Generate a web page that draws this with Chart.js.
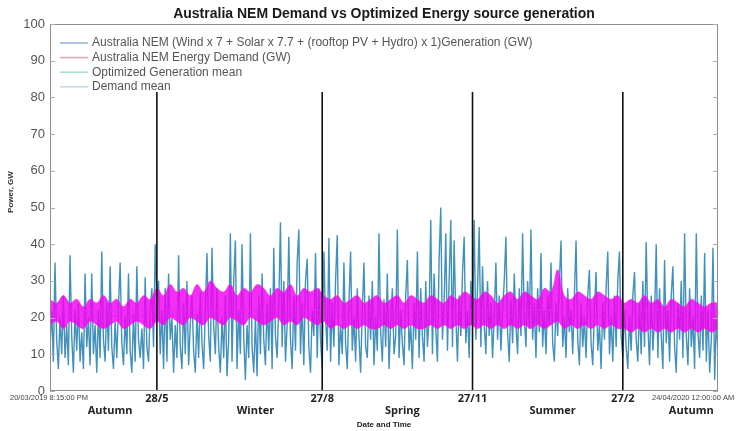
<!DOCTYPE html>
<html lang="en">
<head>
<meta charset="UTF-8">
<title>Australia NEM Demand vs Optimized Energy source generation</title>
<style>
    body { margin: 0; background: #fff; }
    #wrap { width: 750px; height: 431px; }
</style>
</head>
<body>
<div id="wrap"><canvas id="chart" width="750" height="431"></canvas></div>
<script src="https://cdn.jsdelivr.net/npm/chart.js"></script>
<script>
// Chart values.
// x is days since 20/03/2019 8:15 PM (range ends 24/04/2020).
const dayMax = 400;

// Optimized generation (GW), one value per day
const genValues = [
    12, 22, 8, 35, 14, 6, 20, 10, 26, 9,
    18, 7, 37, 15, 5, 22, 11, 24, 8, 16,
    6, 32, 12, 20, 7, 32, 10, 18, 5, 22,
    9, 38, 14, 8, 24, 11, 34, 12, 6, 19,
    9, 23, 35, 13, 7, 20, 10, 32, 11, 5,
    21, 8, 34, 14, 9, 17, 6, 31, 12, 8,
    22, 28, 12, 40, 24, 30, 10, 22, 6, 28,
    8, 32, 14, 20, 5, 18, 9, 37, 12, 6,
    24, 10, 30, 7, 18, 26, 11, 5, 21, 9,
    27, 13, 6, 22, 37.6, 15, 8, 39, 18, 10,
    28, 12, 5, 20, 9, 26, 4, 14, 43, 8,
    30, 41, 6, 22, 10, 40, 15, 3, 18, 9,
    43, 12, 5, 20, 4, 26, 10, 32, 14, 7,
    24, 11, 28, 6, 39, 15, 9, 24, 46, 12,
    30, 8, 18, 42, 14, 6, 26, 11, 35, 44,
    10, 24, 7, 30, 36, 12, 5, 22, 15, 37.6,
    9, 28, 14, 6, 38, 20, 11, 41.7, 8, 24,
    12, 30, 42.5, 7, 18, 10, 35, 13, 6, 24,
    38, 11, 20, 8, 28, 15, 5, 22, 35, 12,
    9, 26, 14, 30, 7, 20, 11, 43, 16, 8,
    25, 12, 32, 6, 19, 28, 10, 15, 44, 9,
    22, 13, 7, 26, 35.7, 11, 18, 6, 24, 14,
    38, 9, 28, 15, 8, 30, 12, 20, 46.6, 10,
    32, 17, 8, 36, 50, 14, 24, 43, 11, 30,
    46.6, 12, 41, 20, 8, 26, 15, 32, 42, 13,
    22, 9, 30, 18, 46.6, 14, 28, 44.7, 12, 34,
    18, 10, 30, 15, 24, 9, 20, 35, 14, 26,
    11, 22, 30, 42, 16, 8, 25, 13, 32, 18,
    10, 28, 15, 43, 20, 12, 30, 17, 44, 14,
    24, 9, 28, 16, 37.6, 12, 22, 10, 26, 18,
    35, 13, 8, 24, 15, 30, 41, 12, 20, 9,
    28, 16, 22, 10, 26, 41, 14, 7, 24, 12,
    20, 9, 26, 33, 13, 7, 22, 32.4, 11, 18,
    6, 24, 14, 28, 38, 10, 20, 8, 26, 12,
    30, 38, 15, 9, 22, 12, 6, 20, 11, 26,
    32.4, 14, 8, 24, 10, 30, 12, 40.6, 18, 7,
    26, 11, 20, 40, 9, 28, 15, 6, 35.7, 13,
    22, 8, 26, 34, 12, 5, 24, 14, 30, 9,
    43, 15, 7, 28, 12, 20, 6, 43, 16, 9,
    26, 11, 37.6, 8, 22, 5, 14, 39, 3, 20,
    10
];

// Demand band (GW): upper and lower envelope, one value every 4 days
const demandHigh = [
    25, 24, 26, 24, 25, 23, 25, 24, 26, 24,
    25, 23, 25, 24, 26, 25, 28, 26, 29, 27,
    28, 26, 29, 27, 30, 28, 27, 29, 26, 28,
    27, 29, 28, 26, 28, 27, 29, 26, 28, 27,
    28, 26, 25, 26, 24, 25, 26, 24, 25, 26,
    24, 25, 26, 24, 26, 25, 24, 26, 25, 24,
    26, 25, 27, 26, 25, 27, 26, 24, 26, 27,
    25, 27, 26, 25, 28, 27, 33, 26, 25, 27,
    26, 25, 27, 26, 25, 26, 24, 25, 24, 26,
    24, 25, 23, 25, 24, 23, 25, 24, 23, 24,
    24
];
const demandLow = [
    18, 19, 17, 19, 18, 17, 19, 18, 17, 18,
    19, 17, 18, 19, 18, 17, 19, 18, 20, 19,
    18, 20, 19, 18, 20, 19, 18, 20, 19, 18,
    20, 19, 18, 19, 20, 18, 19, 18, 20, 19,
    18, 19, 17, 18, 17, 18, 17, 18, 17, 17,
    18, 17, 18, 17, 18, 17, 17, 18, 17, 18,
    17, 18, 17, 18, 17, 18, 17, 18, 17, 18,
    17, 18, 17, 18, 17, 18, 19, 17, 18, 17,
    18, 17, 18, 17, 18, 17, 17, 16, 17, 16,
    17, 16, 17, 16, 17, 16, 17, 16, 17, 16,
    17
];
const demandStep = 4;

const genMean = 20.5;
const demandMean = 22;

// Season boundary markers
const markerDays = [64, 163, 253, 343];
const markerLabels = ['28/5', '27/8', '27/11', '27/2'];
const markerTop = 81.5;

const seasonDays = [36, 123, 211, 301, 384];
const seasonLabels = ['Autumn', 'Winter', 'Spring', 'Summer', 'Autumn'];

const startLabel = '20/03/2019 8:15:00 PM';
const endLabel = '24/04/2020 12:00:00 AM';

const yTicks = [0, 10, 20, 30, 40, 50, 60, 70, 80, 90, 100];

const legendLabels = [
    'Australia NEM (Wind x 7 + Solar x 7.7 + (rooftop PV + Hydro) x 1)Generation (GW)',
    'Australia NEM Energy Demand (GW)',
    'Optimized Generation mean',
    'Demand mean'
];
const legendColors = ['#8fb3c9', '#e3a1bb', '#a3e0cf', '#c3d9e4'];

// Build point lists for the linear x axis
const genPoints = genValues.map((v, i) => ({ x: i, y: v }));
const highPoints = demandHigh.map((v, i) => ({ x: i * demandStep, y: v }));
const lowPoints = demandLow.map((v, i) => ({ x: i * demandStep, y: v }));

const markerSets = markerDays.map(d => ({
    label: 'marker',
    data: [{ x: d, y: 0 }, { x: d, y: markerTop }],
    borderColor: '#111',
    borderWidth: 1.6,
    pointRadius: 0,
    order: 0
}));

// Text, legend, box and tick marks in the MATLAB style of the reference
const overlay = {
    id: 'overlay',
    afterDraw(chart) {
        const { ctx, chartArea: a, scales: { x, y } } = chart;
        ctx.save();

        // plot box
        ctx.strokeStyle = '#8c8c8c';
        ctx.lineWidth = 1;
        ctx.strokeRect(a.left + 0.5, a.top + 0.5, a.width - 1, a.height - 1);

        // inward y tick marks on both sides
        ctx.strokeStyle = '#aaa';
        yTicks.forEach(t => {
            const py = Math.round(y.getPixelForValue(t)) + 0.5;
            ctx.beginPath();
            ctx.moveTo(a.left, py); ctx.lineTo(a.left + 5, py);
            ctx.moveTo(a.right, py); ctx.lineTo(a.right - 5, py);
            ctx.stroke();
        });

        // title
        ctx.fillStyle = '#1a1a1a';
        ctx.font = 'bold 14px "Liberation Sans", Arial, sans-serif';
        ctx.textAlign = 'center';
        ctx.textBaseline = 'middle';
        ctx.fillText('Australia NEM Demand vs Optimized Energy source generation', (a.left + a.right) / 2, 14);

        // legend
        ctx.font = '12px "Liberation Sans", Arial, sans-serif';
        ctx.textAlign = 'left';
        legendLabels.forEach((lab, i) => {
            const cy = 43 + i * 14.6;
            ctx.strokeStyle = legendColors[i];
            ctx.lineWidth = 1.5;
            ctx.beginPath();
            ctx.moveTo(60, cy); ctx.lineTo(88, cy);
            ctx.stroke();
            ctx.fillStyle = '#555';
            ctx.fillText(lab, 92, cy);
        });

        // y axis title
        ctx.save();
        ctx.translate(11, 192);
        ctx.rotate(-Math.PI / 2);
        ctx.fillStyle = '#333';
        ctx.font = 'bold 8px "Liberation Sans", Arial, sans-serif';
        ctx.textAlign = 'center';
        ctx.fillText('Power, GW', 0, 0);
        ctx.restore();

        // x axis end labels
        ctx.fillStyle = '#444';
        ctx.font = '7.5px "Liberation Sans", Arial, sans-serif';
        ctx.textAlign = 'left';
        ctx.fillText(startLabel, 10, 398);
        ctx.fillText(endLabel, 652, 398);

        // marker dates and season names
        ctx.fillStyle = '#222';
        ctx.textAlign = 'center';
        ctx.font = 'bold 11px "Open Sans", "DejaVu Sans", sans-serif';
        markerDays.forEach((d, i) => {
            ctx.fillText(markerLabels[i], x.getPixelForValue(d), 399);
        });
        seasonDays.forEach((d, i) => {
            ctx.fillText(seasonLabels[i], x.getPixelForValue(d), 411);
        });

        // x axis title
        ctx.font = 'bold 8px "Liberation Sans", Arial, sans-serif';
        ctx.fillText('Date and Time', (a.left + a.right) / 2, 425);

        ctx.restore();
    }
};

new Chart(document.getElementById('chart'), {
    type: 'line',
    data: {
        datasets: [
            {
                label: legendLabels[0],
                data: genPoints,
                borderColor: 'rgba(56,138,184,0.95)',
                borderWidth: 1.4,
                pointRadius: 0,
                tension: 0,
                order: 4
            },
            {
                label: 'demand low',
                data: lowPoints,
                borderColor: 'rgba(235,60,235,0.6)',
                borderWidth: 1,
                pointRadius: 0,
                tension: 0.4,
                order: 2
            },
            {
                label: legendLabels[1],
                data: highPoints,
                borderColor: 'rgba(235,60,235,0.6)',
                borderWidth: 1,
                backgroundColor: 'rgba(242,0,242,0.82)',
                fill: 1,
                pointRadius: 0,
                tension: 0.4,
                order: 1
            },
            {
                label: legendLabels[2],
                data: [{ x: 0, y: genMean }, { x: dayMax, y: genMean }],
                borderColor: '#7fd3c4',
                borderWidth: 1,
                pointRadius: 0,
                order: 3
            },
            {
                label: legendLabels[3],
                data: [{ x: 0, y: demandMean }, { x: dayMax, y: demandMean }],
                borderColor: '#b9d6e4',
                borderWidth: 1,
                pointRadius: 0,
                order: 3
            },
            ...markerSets
        ]
    },
    options: {
        responsive: false,
        animation: false,
        layout: { padding: { top: 24, right: 32, bottom: 40, left: 0 } },
        plugins: {
            legend: { display: false },
            title: { display: false },
            tooltip: { enabled: false }
        },
        scales: {
            x: {
                type: 'linear',
                min: 0,
                max: dayMax,
                display: false
            },
            y: {
                min: 0,
                max: 100,
                afterFit: s => { s.width = 50; },
                afterBuildTicks: s => { s.ticks = yTicks.map(v => ({ value: v })); },
                grid: { display: false, drawTicks: false },
                border: { display: false },
                ticks: {
                    padding: 5,
                    color: '#555',
                    font: { size: 13, family: '"Liberation Sans", Arial, sans-serif' }
                }
            }
        }
    },
    plugins: [overlay]
});
</script>
</body>
</html>
